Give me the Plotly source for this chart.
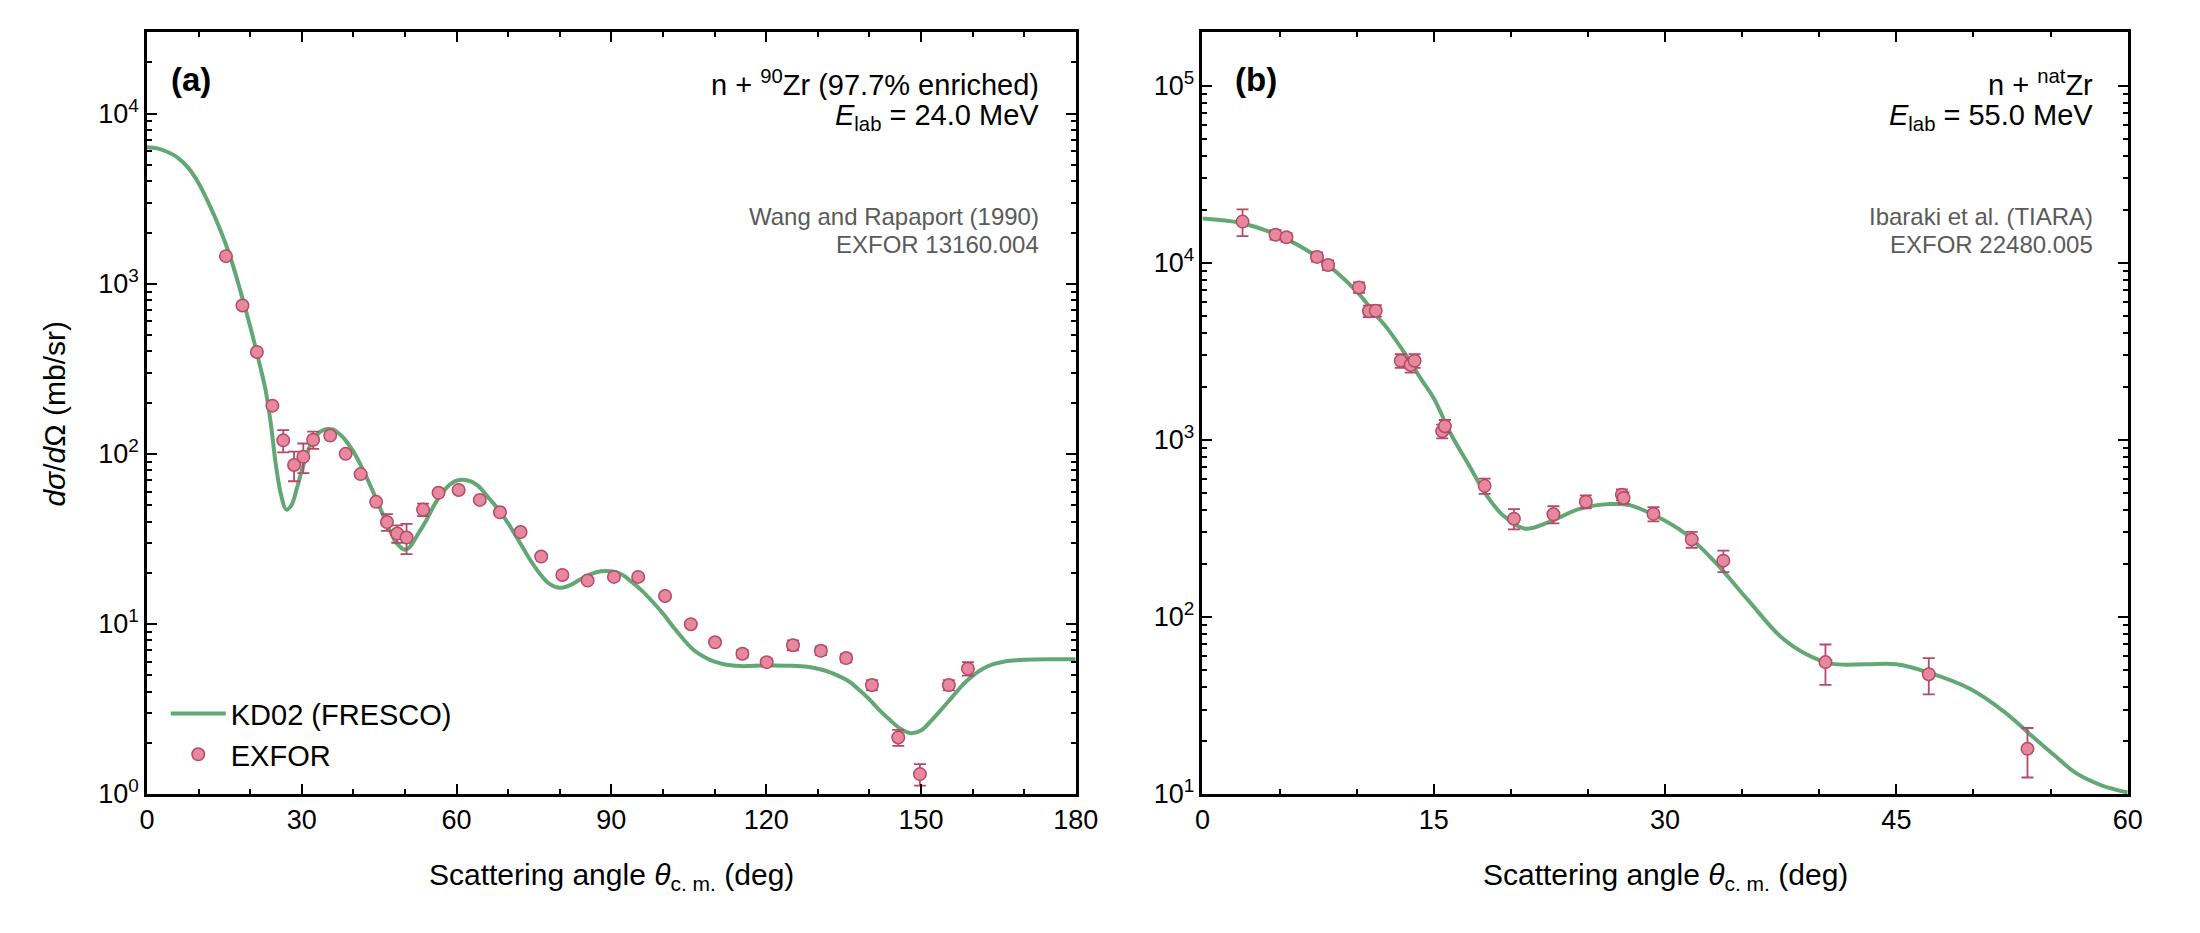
import plotly.graph_objects as go

# ---------------- Panel (a): n + 90Zr, 24.0 MeV ----------------
a_curve_theta = [0, 2, 4, 6, 8, 10, 12, 14, 16, 18, 20, 22, 23, 24, 25, 26, 27, 28, 29, 30, 31, 32, 33,
                 34, 35, 36, 37, 38, 40, 42, 44, 46, 48, 49, 50, 51, 52, 54, 56, 58, 60, 62, 64, 66,
                 68, 70, 72, 74, 76, 78, 80, 82, 84, 86, 88, 90, 92, 94, 96, 98, 100, 102, 104, 106,
                 108, 110, 112, 115, 120, 125, 128, 130, 132, 134, 136, 138, 140, 142, 144, 146, 148,
                 150, 152, 154, 156, 158, 160, 162, 164, 166, 168, 170, 175, 180]
a_curve_xs = [6350, 6250, 5950, 5500, 4800, 3900, 2950, 2150, 1480, 930, 560, 320, 235, 150, 85, 57, 47,
              50, 62, 80, 100, 118, 130, 137, 140, 139, 133, 125, 103, 79, 58, 42, 31, 28.5, 27.3,
              28.5, 31.8, 40, 52, 63, 69.5, 70, 65.5, 56, 47.5, 39, 31, 24.5, 20, 17.2, 16.3, 16.9,
              18.3, 19.6, 20.4, 20.4, 19.5, 17.6, 15.6, 13.5, 11.5, 9.6, 8.1, 7.0, 6.4, 6.0, 5.78,
              5.65, 5.7, 5.68, 5.6, 5.45, 5.25, 4.95, 4.6, 4.1, 3.6, 3.1, 2.72, 2.42, 2.28, 2.36,
              2.7, 3.15, 3.7, 4.35, 4.95, 5.45, 5.8, 6.0, 6.1, 6.16, 6.2, 6.2]

a_exp_theta = [15.3, 18.5, 21.3, 24.3, 26.4, 28.5, 30.3, 32.2, 35.5, 38.5, 41.4, 44.4, 46.5, 48.5,
               50.3, 53.5, 56.5, 60.4, 64.5, 68.4, 72.4, 76.4, 80.5, 85.4, 90.5, 95.2, 100.4, 105.4,
               110.1, 115.4, 120.1, 125.2, 130.6, 135.5, 140.5, 145.6, 149.8, 155.4, 159.1]
a_exp_xs = [1452, 745, 397, 192, 120, 86, 96, 121, 128, 100, 76, 52.2, 39.7, 34,
            32.2, 47, 59, 61.3, 53.6, 45.3, 34.7, 24.9, 19.4, 18.0, 18.9, 18.9, 14.6, 9.96,
            7.8, 6.68, 5.96, 7.5, 6.95, 6.3, 4.37, 2.15, 1.31, 4.37, 5.46]
a_exp_err = [30, 15, 8, 4, 18, 17, 19, 14, 3, 2.5, 2, 1.5, 4.5, 4,
             6.5, 4, 1.5, 1.5, 1.3, 1.2, 1, 0.8, 0.6, 0.5, 0.5, 0.5, 0.4, 0.3,
             0.3, 0.35, 0.3, 0.5, 0.4, 0.35, 0.3, 0.23, 0.19, 0.3, 0.5]

# ---------------- Panel (b): n + natZr, 55.0 MeV ----------------
b_curve_theta = [0, 2.5, 5.0, 7.5, 10.0, 11.2, 12.0, 13.2, 14.2, 15.0, 16.1, 17.2, 18.45, 19.5, 20.9,
                 22.5, 24.45, 26.4, 27.7, 29.35, 31.3, 33.2, 35.4, 37.5, 39.2, 40.8, 43.0, 45.0,
                 47.1, 49.8, 52.0, 53.6, 55.3, 56.6, 58.3, 60.0]
b_curve_xs = [17800, 16800, 14200, 10700, 6900, 5130, 4250, 3010, 2190, 1720, 1084, 740, 483, 374, 315,
              344, 408, 434, 428, 374, 296, 206, 124, 77.4, 61.4, 54.5, 54, 54,
              48.5, 39.2, 29.1, 22, 16.4, 13.2, 11.2, 10.2]

b_exp_theta = [2.6, 4.74, 5.45, 7.43, 8.15, 10.15, 10.8, 11.24, 12.86, 13.5, 13.76, 15.55, 15.72,
               18.3, 20.2, 22.76, 24.86, 27.2, 27.31, 29.25, 31.73, 33.78, 40.4, 47.1, 53.5]
b_exp_xs = [17100, 14420, 13930, 10800, 9710, 7260, 5330, 5370, 2800, 2650, 2800, 1120, 1195,
            550, 359, 380, 448, 490, 470, 382, 274, 208, 55.6, 47.5, 18.0]
b_exp_err = [2950, 900, 800, 650, 600, 500, 400, 400, 250, 250, 250, 100, 100,
             55, 47, 42, 38, 35, 35, 35, 28, 29, 14.3, 11, 5.6]

a_xticks = [0, 30, 60, 90, 120, 150, 180]
b_xticks = [0, 15, 30, 45, 60]
a_yticks = [1, 10, 100, 1000, 10000]
a_yticktext = ["10<sup>0</sup>", "10<sup>1</sup>", "10<sup>2</sup>", "10<sup>3</sup>", "10<sup>4</sup>"]
b_yticks = [10, 100, 1000, 10000, 100000]
b_yticktext = ["10<sup>1</sup>", "10<sup>2</sup>", "10<sup>3</sup>", "10<sup>4</sup>", "10<sup>5</sup>"]

FONT = "Liberation Sans, Arial, sans-serif"
GREEN = "#63a874"
PINK = "#e8889f"
EDGE = "#b34a68"
TICK_SIZE = 27
TXT_SIZE = 29
TITLE_SIZE = 30
GRAY_SIZE = 24

fig = go.Figure()

def add_panel(theta_c, xs_c, theta_e, xs_e, err_e, xa, ya, legend):
    fig.add_trace(go.Scatter(x=theta_c, y=xs_c, mode="lines", name="KD02 (FRESCO)",
                             line=dict(color=GREEN, width=4, shape="spline", smoothing=1.0),
                             xaxis=xa, yaxis=ya, showlegend=legend))
    fig.add_trace(go.Scatter(x=theta_e, y=xs_e, mode="markers", name="EXFOR",
                             marker=dict(color=PINK, size=12.5, line=dict(color=EDGE, width=1.5)),
                             error_y=dict(type="data", array=err_e, visible=True, color=EDGE,
                                          thickness=1.8, width=6),
                             xaxis=xa, yaxis=ya, showlegend=legend))

add_panel(a_curve_theta, a_curve_xs, a_exp_theta, a_exp_xs, a_exp_err, "x", "y", True)
add_panel(b_curve_theta, b_curve_xs, b_exp_theta, b_exp_xs, b_exp_err, "x2", "y2", False)

def minor_log(lo, hi):
    vals = []
    d = lo
    while d < hi:
        for k in range(2, 10):
            vals.append(k * d)
        d *= 10
    return vals

common_x = dict(showline=True, linewidth=2.5, linecolor="black", mirror="allticks", ticks="inside",
                ticklen=10, tickwidth=2, tickcolor="black", showgrid=False, zeroline=False,
                tickfont=dict(family=FONT, size=TICK_SIZE, color="black"))
common_y = dict(common_x, type="log")

ydom = [1 - 807 / 933, 1 - 33 / 933]
fig.update_layout(
    width=2200, height=933, margin=dict(l=0, r=0, t=0, b=0),
    paper_bgcolor="white", plot_bgcolor="white",
    font=dict(family=FONT, color="black"),
    xaxis=dict(common_x, domain=[141 / 2200, 1083 / 2200], range=[0, 180], tickvals=a_xticks,
               minor=dict(dtick=10, ticks="inside", ticklen=5, tickwidth=1.5, tickcolor="black", showgrid=False),
               anchor="y"),
    yaxis=dict(common_y, domain=ydom, range=[0, 4.4771], tickvals=a_yticks, ticktext=a_yticktext,
               minor=dict(tickvals=minor_log(1, 30000), ticks="inside", ticklen=5, tickwidth=1.5,
                          tickcolor="black", showgrid=False),
               anchor="x"),
    xaxis2=dict(common_x, domain=[1211.5 / 2200, 2150 / 2200], range=[0, 60], tickvals=b_xticks,
                minor=dict(dtick=5, ticks="inside", ticklen=5, tickwidth=1.5, tickcolor="black", showgrid=False),
                anchor="y2"),
    yaxis2=dict(common_y, domain=ydom, range=[1, 5.30103], tickvals=b_yticks, ticktext=b_yticktext,
                minor=dict(tickvals=minor_log(10, 200000), ticks="inside", ticklen=5, tickwidth=1.5,
                           tickcolor="black", showgrid=False),
                anchor="x2"),
    legend=dict(x=160 / 2200, y=(933 - 793) / 933, xanchor="left", yanchor="bottom",
                bgcolor="rgba(0,0,0,0)", font=dict(family=FONT, size=TXT_SIZE, color="black"),
                itemwidth=55, tracegroupgap=0),
    showlegend=True,
)

def ydom_of(px):
    return 1 - (px - 33) / 774

anns = []
for xa, ya, label, lx, rx, line1, line2, g1, g2 in [
    ("x", "y", "(a)", 0.0234, 0.9629, "n + <sup>90</sup>Zr (97.7% enriched)",
     "<i>E</i><sub>lab</sub> = 24.0 MeV", "Wang and Rapaport (1990)", "EXFOR 13160.004"),
    ("x2", "y2", "(b)", 0.0325, 0.9648, "n + <sup>nat</sup>Zr",
     "<i>E</i><sub>lab</sub> = 55.0 MeV", "Ibaraki et al. (TIARA)", "EXFOR 22480.005"),
]:
    xr = xa + " domain"
    yr = ya + " domain"
    anns.append(dict(xref=xr, yref=yr, x=lx, y=ydom_of(81), text="<b>%s</b>" % label, showarrow=False,
                     xanchor="left", yanchor="middle", font=dict(family=FONT, size=33, color="black")))
    anns.append(dict(xref=xr, yref=yr, x=rx, y=ydom_of(84), text=line1, showarrow=False, height=34,
                     xanchor="right", yanchor="middle", font=dict(family=FONT, size=TXT_SIZE, color="black")))
    anns.append(dict(xref=xr, yref=yr, x=rx, y=ydom_of(119), text=line2, showarrow=False, height=34,
                     xanchor="right", yanchor="middle", font=dict(family=FONT, size=TXT_SIZE, color="black")))
    anns.append(dict(xref=xr, yref=yr, x=rx, y=ydom_of(220), text=g1, showarrow=False, height=28,
                     xanchor="right", yanchor="middle", font=dict(family=FONT, size=GRAY_SIZE, color="#5a5a5a")))
    anns.append(dict(xref=xr, yref=yr, x=rx, y=ydom_of(248), text=g2, showarrow=False, height=28,
                     xanchor="right", yanchor="middle", font=dict(family=FONT, size=GRAY_SIZE, color="#5a5a5a")))
    anns.append(dict(xref=xr, yref=yr, x=0.5, y=ydom_of(891),
                     text="Scattering angle <i>θ</i><sub>c. m.</sub> (deg)", showarrow=False,
                     xanchor="center", yanchor="middle", font=dict(family=FONT, size=TITLE_SIZE, color="black")))

anns.append(dict(xref="x domain", yref="y domain", x=(47 - 141) / 942, y=0.5,
                 text="<i>dσ</i>/<i>d</i>Ω (mb/sr)", textangle=-90, showarrow=False,
                 xanchor="center", yanchor="middle", font=dict(family=FONT, size=TITLE_SIZE, color="black")))
fig.update_layout(annotations=anns)

fig.write_html("out.html")
